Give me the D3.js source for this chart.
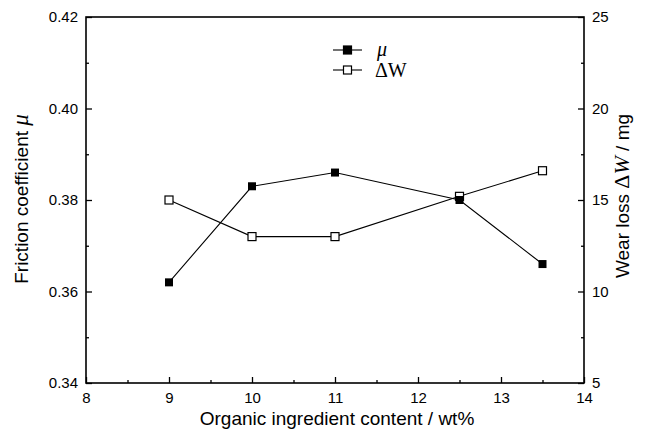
<!DOCTYPE html>
<html><head><meta charset="utf-8">
<script src="https://cdn.jsdelivr.net/npm/d3@7/dist/d3.min.js"></script>
<style>body{margin:0;background:#fff}svg{display:block}</style>
</head><body>
<svg id="c" width="646" height="435"></svg>
<script>
const content = [9, 10, 11, 12.5, 13.5];
const mu = [0.362, 0.383, 0.386, 0.380, 0.366];
const wear = [15.0, 13.0, 13.0, 15.2, 16.6];
const xTicks = [8, 9, 10, 11, 12, 13, 14];
const leftTicks = [0.34, 0.36, 0.38, 0.40, 0.42];
const rightTicks = [5, 10, 15, 20, 25];

const svg = d3.select("#c");
const L = 86, R = 584, T = 17, B = 383;
const x = d3.scaleLinear().domain([8, 14]).range([L, R]);
const yL = d3.scaleLinear().domain([0.34, 0.42]).range([B, T]);
const yR = d3.scaleLinear().domain([5, 25]).range([B, T]);
const font = "'Liberation Sans', Arial, sans-serif";
const serif = "'Liberation Serif', 'Times New Roman', serif";

svg.append("rect").attr("x", L).attr("y", T).attr("width", R - L).attr("height", B - T)
  .attr("fill", "none").attr("stroke", "#000").attr("stroke-width", 1.6);

function styleAxis(g) {
  g.select(".domain").remove();
  g.selectAll("line").attr("stroke", "#000").attr("stroke-width", 1.3);
  g.selectAll("text").attr("font-family", font).attr("font-size", 15).attr("fill", "#000");
}
const minorX = d3.range(8.5, 14, 1);
svg.append("g").attr("transform", `translate(0,${B})`)
  .call(d3.axisTop(x).tickValues(minorX).tickSize(3).tickFormat(""))
  .call(styleAxis);
svg.append("g").attr("transform", `translate(0,${B})`)
  .call(d3.axisBottom(x).tickValues(xTicks).tickSize(-6).tickPadding(9).tickFormat(d3.format("d")))
  .call(styleAxis);
svg.append("g").attr("transform", `translate(${L},0)`)
  .call(d3.axisRight(yL).tickValues(d3.range(0.35, 0.42, 0.02)).tickSize(3).tickFormat(""))
  .call(styleAxis);
svg.append("g").attr("transform", `translate(${L},0)`)
  .call(d3.axisLeft(yL).tickValues(leftTicks).tickSize(-6).tickPadding(8).tickFormat(d3.format(".2f")))
  .call(styleAxis);
svg.append("g").attr("transform", `translate(${R},0)`)
  .call(d3.axisLeft(yR).tickValues([7.5, 12.5, 17.5, 22.5]).tickSize(3).tickFormat(""))
  .call(styleAxis);
svg.append("g").attr("transform", `translate(${R},0)`)
  .call(d3.axisRight(yR).tickValues(rightTicks).tickSize(-6).tickPadding(8).tickFormat(d3.format("d")))
  .call(styleAxis);

const lineMu = d3.line().x((d, i) => x(content[i])).y(d => yL(d));
const lineW = d3.line().x((d, i) => x(content[i])).y(d => yR(d));
svg.append("path").attr("d", lineMu(mu)).attr("fill", "none").attr("stroke", "#000").attr("stroke-width", 1.1);
svg.append("path").attr("d", lineW(wear)).attr("fill", "none").attr("stroke", "#000").attr("stroke-width", 1.1);
const s = 8;
svg.selectAll(".mw").data(wear).enter().append("rect")
  .attr("x", (d, i) => x(content[i]) - s / 2).attr("y", d => yR(d) - s / 2)
  .attr("width", s).attr("height", s).attr("fill", "#fff").attr("stroke", "#000").attr("stroke-width", 1.2);
svg.selectAll(".mm").data(mu).enter().append("rect")
  .attr("x", (d, i) => x(content[i]) - s / 2).attr("y", d => yL(d) - s / 2)
  .attr("width", s).attr("height", s).attr("fill", "#000");

const lg = svg.append("g");
[[50, "#000"], [70, "#fff"]].forEach(([yy, f]) => {
  lg.append("line").attr("x1", 333).attr("x2", 362).attr("y1", yy).attr("y2", yy).attr("stroke", "#000").attr("stroke-width", 1.1);
  lg.append("rect").attr("x", 343.5).attr("y", yy - 4).attr("width", s).attr("height", s)
    .attr("fill", f).attr("stroke", "#000").attr("stroke-width", 1.2);
});
lg.append("text").attr("x", 377).attr("y", 56).attr("font-family", serif)
  .attr("font-style", "italic").attr("font-size", 20).text("μ");
lg.append("text").attr("x", 375).attr("y", 77).attr("font-family", serif)
  .attr("font-size", 20).text("ΔW");

svg.append("text").attr("x", 337).attr("y", 425).attr("text-anchor", "middle")
  .attr("font-family", font).attr("font-size", 19).text("Organic ingredient content / wt%");
const lt = svg.append("text").attr("transform", `translate(28,199) rotate(-90)`)
  .attr("text-anchor", "middle").attr("font-family", font).attr("font-size", 19);
lt.append("tspan").text("Friction coefficient ");
lt.append("tspan").attr("font-family", serif).attr("font-style", "italic").attr("font-size", 23).text("μ");
const rt = svg.append("text").attr("transform", `translate(629,196) rotate(-90)`)
  .attr("text-anchor", "middle").attr("font-family", font).attr("font-size", 19);
rt.append("tspan").text("Wear loss ");
rt.append("tspan").attr("font-family", serif).attr("font-size", 22).text("Δ");
rt.append("tspan").attr("font-family", serif).attr("font-style", "italic").attr("font-size", 22).text("W");
rt.append("tspan").text(" / mg");
</script>
</body></html>
